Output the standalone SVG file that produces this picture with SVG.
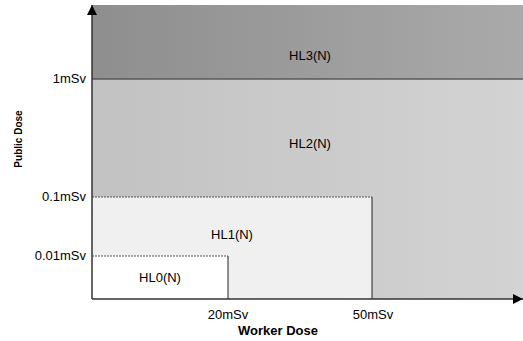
<svg xmlns="http://www.w3.org/2000/svg" width="523" height="341" viewBox="0 0 523 341">
<style>
text{font-family:"Liberation Sans",Arial,sans-serif;font-size:13px;fill:#000}
.b{font-weight:bold}
.r{text-anchor:end}
.m{text-anchor:middle}
</style>
<defs>
<linearGradient id="g3" x1="0" x2="1" y1="0" y2="0"><stop offset="0" stop-color="#8e8e8e"/><stop offset="1" stop-color="#aaaaaa"/></linearGradient>
<linearGradient id="g2" x1="0" x2="1" y1="0" y2="0"><stop offset="0" stop-color="#c2c2c2"/><stop offset="1" stop-color="#d3d3d3"/></linearGradient>
<marker id="ar" viewBox="0 0 10 10" refX="10" refY="5" markerWidth="10" markerHeight="10" markerUnits="userSpaceOnUse" orient="auto"><path d="M0,0L10,5L0,10z" fill="#000"/></marker>
</defs>
<g id="HL3"><rect x="92" y="5" width="431" height="74" fill="url(#g3)"/><text class="m" x="310" y="60">HL3(N)</text></g>
<g id="HL2"><rect x="92" y="79" width="431" height="220" fill="url(#g2)"/><line x1="92" y1="79" x2="523" y2="79" stroke="#5a5a5a" stroke-width="1.5"/><text class="m" x="310" y="148">HL2(N)</text></g>
<g id="HL1"><rect x="92" y="197" width="280" height="102" fill="#f0f0f0"/><path d="M92,197H372" stroke="#555" stroke-dasharray="2,1" fill="none"/><path d="M372,197V299" stroke="#222" fill="none"/><text class="m" x="232" y="239">HL1(N)</text></g>
<g id="HL0"><rect x="92" y="256" width="136" height="43" fill="#fff"/><path d="M92,256H228" stroke="#555" stroke-dasharray="2,1" fill="none"/><path d="M228,256V299" stroke="#222" fill="none"/><text class="m" x="160" y="282">HL0(N)</text></g>
<g id="connectors">
<line x1="92" y1="299" x2="92" y2="5" stroke="#333" stroke-width="1.5" marker-end="url(#ar)"/>
<line x1="92" y1="299" x2="523" y2="299" stroke="#333" stroke-width="1.5" marker-end="url(#ar)"/>
</g>
<g id="labels">
<text class="r" x="86" y="83">1mSv</text>
<text class="r" x="86" y="201">0.1mSv</text>
<text class="r" x="86" y="260">0.01mSv</text>
<text class="m" x="228" y="319">20mSv</text>
<text class="m" x="373" y="319">50mSv</text>
<text class="m b" x="278" y="335">Worker Dose</text>
<text class="m b" style="font-size:10px" transform="translate(22,139) rotate(-90)">Public Dose</text>
</g>
</svg>
